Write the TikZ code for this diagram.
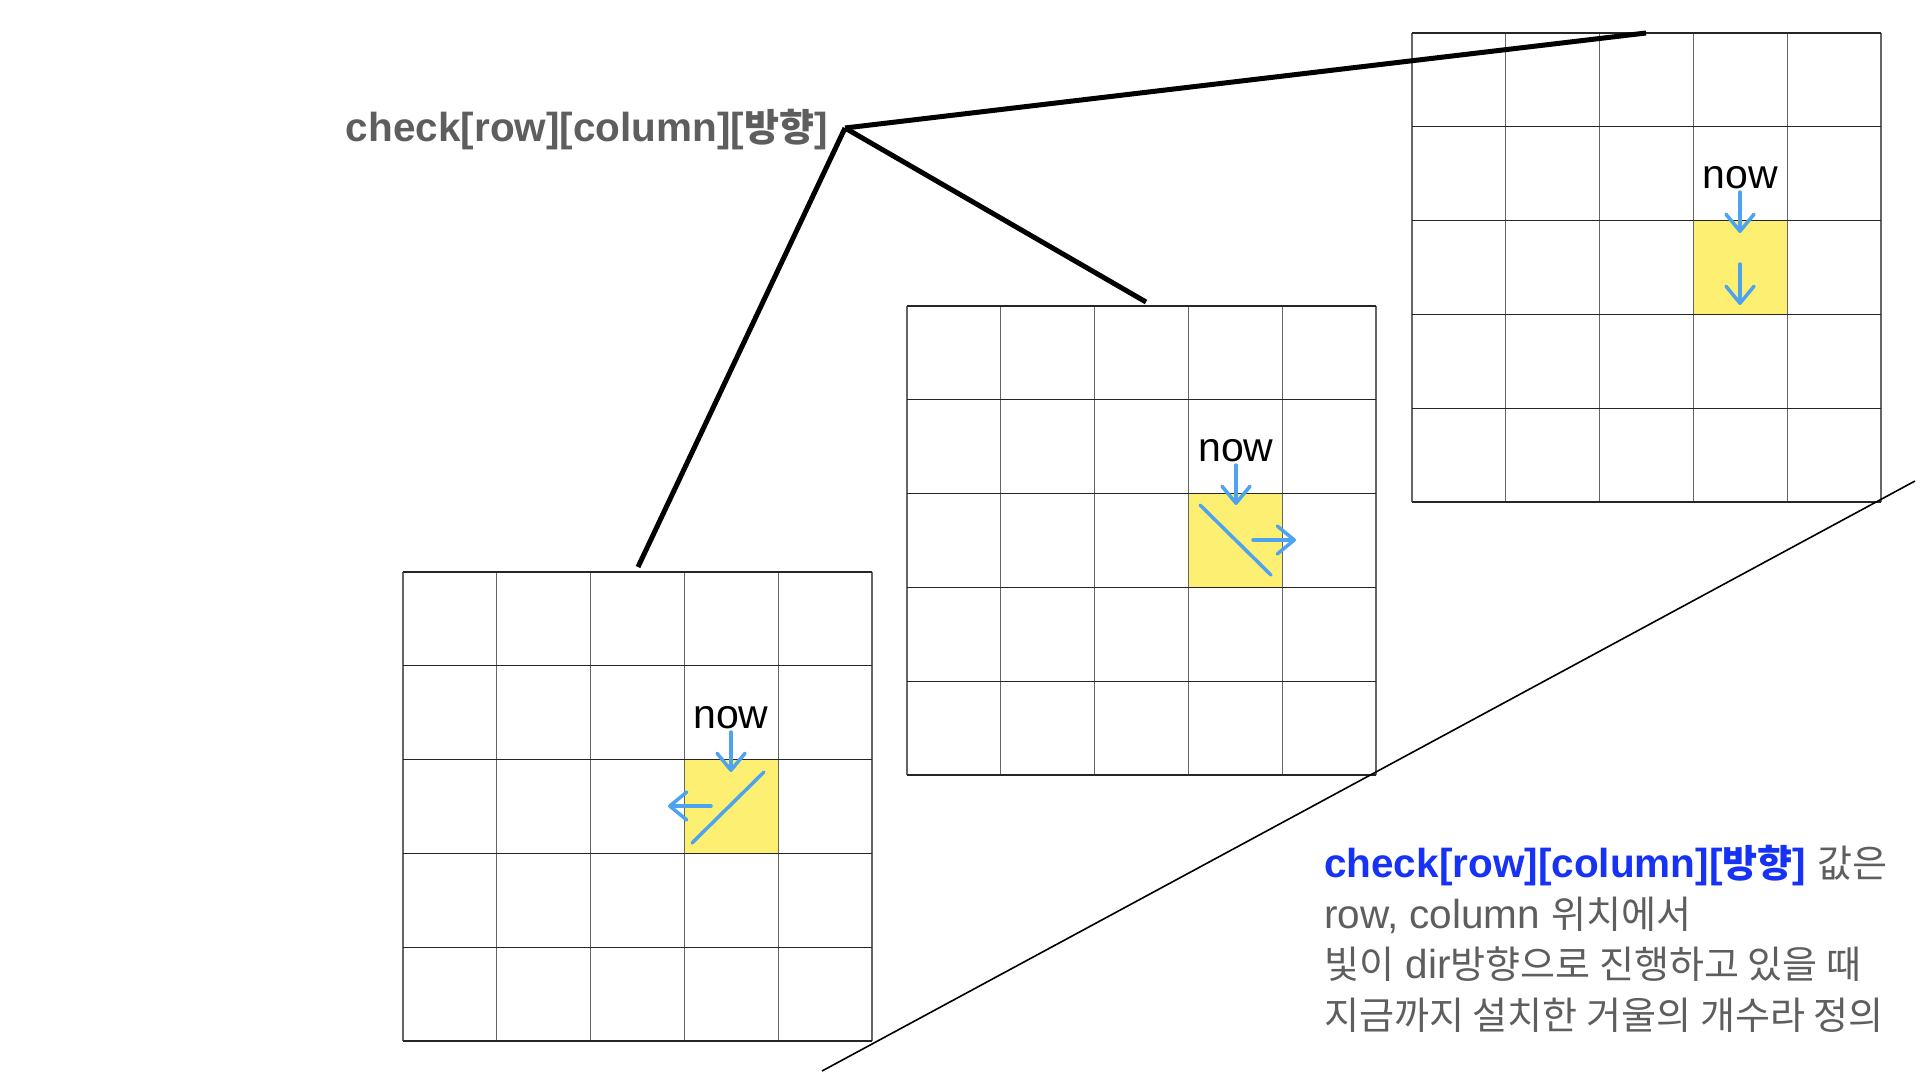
\documentclass[tikz,border=0pt]{standalone}
\usepackage{fontspec}
\setmainfont{Liberation Sans}
\newfontfamily\kr[Scale=0.94]{Noto Sans CJK KR}
\usetikzlibrary{arrows.meta}
\definecolor{txtgray}{RGB}{94,94,94}
\definecolor{kblue}{RGB}{22,50,245}
\definecolor{hl}{RGB}{252,239,114}
\definecolor{sky}{RGB}{77,163,240}
\newcommand\cellgrid{%
  \fill[hl] (3*93.8,2*93.8) rectangle ++(93.8,93.8);
  \foreach \i in {0,...,5} {\draw[vline] (\i*93.8,0) -- ++(0,469);}
  \foreach \i in {0,...,5} {\draw[hline] (0,\i*93.8) -- ++(469,0);}
}
\begin{document}
\begin{tikzpicture}[x=1pt,y=-1pt,
  hline/.style={draw=black!85,line width=1.3pt},
  vline/.style={draw=black!60,line width=1.3pt},
  leader/.style={line width=5pt,draw=black},
  thin/.style={line width=1.6pt,draw=black},
  pen/.style={draw=sky,line width=3.5pt,line cap=round,line join=round},
  penarrow/.style={pen,-{Straight Barb[length=17pt,width=28pt,line width=3.5pt,round]}},
  nowlbl/.style={font=\fontsize{41}{41}\selectfont,inner sep=0pt,anchor=base},
  bigtxt/.style={font=\fontsize{40.5}{50.5}\selectfont,inner sep=0pt}]
\useasboundingbox (0,0) rectangle (1920,1080);
\fill[white] (0,0) rectangle (1920,1080);

% grids
\begin{scope}[shift={(403,572)}]\cellgrid\end{scope}
\begin{scope}[shift={(907,306)}]\cellgrid\end{scope}
\begin{scope}[shift={(1412,33)}]\cellgrid\end{scope}

% grid 3 (top right)
\node[nowlbl] (now3) at (1740,188) {now};
\coordinate (n3a) at (1740,192);
\coordinate (n3b) at (1740,233);
\draw[penarrow] (n3a) -- (n3b);
\coordinate (d3a) at (1740,264);
\coordinate (d3b) at (1740,305);
\draw[penarrow] (d3a) -- (d3b);

% grid 2 (middle)
\node[nowlbl] (now2) at (1236,461) {now};
\coordinate (n2a) at (1236,465);
\coordinate (n2b) at (1236,505);
\draw[penarrow] (n2a) -- (n2b);
\coordinate (m2a) at (1200,505);
\coordinate (m2b) at (1271,575);
\draw[pen] (m2a) -- (m2b);
\coordinate (r2a) at (1253,540);
\coordinate (r2b) at (1296,540);
\draw[penarrow] (r2a) -- (r2b);

% grid 1 (bottom left)
\node[nowlbl] (now1) at (731,728) {now};
\coordinate (n1a) at (731,732);
\coordinate (n1b) at (731,772);
\draw[penarrow] (n1a) -- (n1b);
\coordinate (m1a) at (764,772);
\coordinate (m1b) at (692,843);
\draw[pen] (m1a) -- (m1b);
\coordinate (l1a) at (711,806);
\coordinate (l1b) at (668,806);
\draw[penarrow] (l1a) -- (l1b);

% label and leader lines
\node[anchor=base east,inner sep=0pt,text=txtgray,font=\fontsize{40.5}{47}\selectfont\bfseries] (lbl) at (828,141) {check[row][column][{\kr 방향}]};
\coordinate (apex) at (845,128);
\coordinate (g3top) at (1646,33);
\coordinate (g2top) at (1146,302);
\coordinate (g1top) at (638,567);
\draw[leader] (apex) -- (g3top);
\draw[leader] (apex) -- (g2top);
\draw[leader] (apex) -- (g1top);

% thin diagonal through bottom-right corners
\coordinate (ta) at (822,1071);
\coordinate (tb) at (1915,481);
\draw[thin] (ta) -- (tb);

% description (base anchor = baseline of the last line)
\node[bigtxt,anchor=base west,align=left,text=txtgray] (desc) at (1324,1029)
 {\textcolor{kblue}{\bfseries check[row][column][{\kr 방향}]} {\kr 값은}\\
  row, column {\kr 위치에서}\\
  {\kr 빛이} dir{\kr 방향으로 진행하고 있을 때}\\
  {\kr 지금까지 설치한 거울의 개수라 정의}};
\end{tikzpicture}
\end{document}
